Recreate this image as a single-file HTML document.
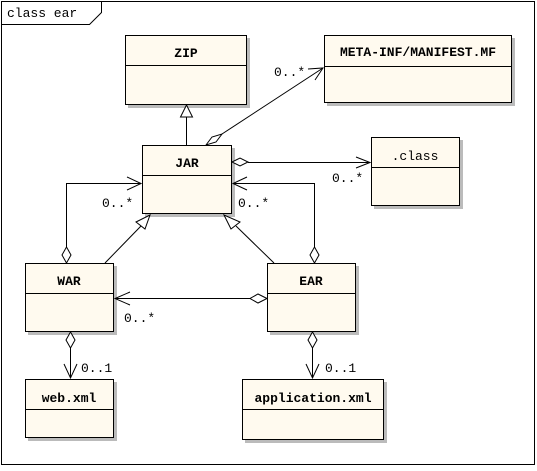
<!DOCTYPE html>
<html><head><style>
body{margin:0;background:#fff;}
svg text{font-family:"Liberation Mono","Noto Sans CJK SC",monospace;font-size:13px;}
</style></head><body>
<svg width="537" height="466" viewBox="0 0 537 466" xmlns="http://www.w3.org/2000/svg">
<rect x="0" y="0" width="537" height="466" fill="#fff"/>
<rect x="1.5" y="1.5" width="533" height="463" fill="none" stroke="#000"/>
<path d="M1.5 24.5 H89.5 L101.5 12.5 V1.5" fill="none" stroke="#000"/>
<text x="7" y="17" font-size="13">class ear</text>
<g stroke="#000" fill="#fffaef">
<!-- shadows -->
<g fill="#bbb" stroke="none">
<rect x="128" y="38" width="122" height="70"/>
<rect x="327" y="38" width="188" height="68"/>
<rect x="145" y="148" width="90" height="69"/>
<rect x="374" y="140" width="89" height="69"/>
<rect x="28" y="266" width="89" height="69"/>
<rect x="270" y="266" width="89" height="69"/>
<rect x="28" y="382" width="89" height="59"/>
<rect x="245" y="382" width="142" height="61"/>
</g>
<rect x="125.5" y="35.5" width="121" height="69"/><line x1="125.5" y1="65.5" x2="246.5" y2="65.5"/>
<rect x="324.5" y="35.5" width="187" height="67"/><line x1="324.5" y1="66.5" x2="511.5" y2="66.5"/>
<rect x="142.5" y="145.5" width="89" height="68"/><line x1="142.5" y1="175.5" x2="231.5" y2="175.5"/>
<rect x="371.5" y="137.5" width="88" height="68"/><line x1="371.5" y1="167.5" x2="459.5" y2="167.5"/>
<rect x="25.5" y="263.5" width="88" height="68"/><line x1="25.5" y1="293.5" x2="113.5" y2="293.5"/>
<rect x="267.5" y="263.5" width="88" height="68"/><line x1="267.5" y1="293.5" x2="355.5" y2="293.5"/>
<rect x="25.5" y="379.5" width="88" height="58"/><line x1="25.5" y1="409.5" x2="113.5" y2="409.5"/>
<rect x="242.5" y="379.5" width="141" height="60"/><line x1="242.5" y1="409.5" x2="383.5" y2="409.5"/>
</g>
<g font-weight="bold" text-anchor="middle">
<text x="186" y="57">ZIP</text>
<text x="418" y="56">META-INF/MANIFEST.MF</text>
<text x="187" y="167">JAR</text>
<text x="415" y="160" font-weight="normal">.class</text>
<text x="69" y="285">WAR</text>
<text x="311" y="285">EAR</text>
<text x="69" y="402">web.xml</text>
<text x="313" y="402">application.xml</text>
</g>
<g stroke="#000" fill="none">
<!-- ZIP generalization -->
<line x1="186.5" y1="145" x2="186.5" y2="117"/>
<path d="M180.5 117 L186.5 105 L192.5 117 Z" fill="#fff"/>
<!-- JAR -> META -->
<path d="M206 145 L212 137 L222 134 L216 142 Z" fill="#fff"/>
<line x1="222" y1="134" x2="323" y2="68"/>
<path d="M308 69 L323 68 L315 80"/>
<!-- JAR -> .class -->
<path d="M232 162 L240 158 L248 162 L240 166 Z" fill="#fff"/>
<line x1="248" y1="162.5" x2="370" y2="162.5"/>
<path d="M356 157 L370 162.5 L356 168"/>
<!-- WAR -> JAR agg -->
<path d="M66.5 263 L62 255 L66.5 247 L71 255 Z" fill="#fff"/>
<polyline points="66.5,247 66.5,183.5 141,183.5"/>
<path d="M127 177 L141 183.5 L127 190"/>
<!-- EAR -> JAR agg -->
<path d="M314.5 263 L310 255 L314.5 247 L319 255 Z" fill="#fff"/>
<polyline points="314.5,247 314.5,183.5 233,183.5"/>
<path d="M247 177 L233 183.5 L247 190"/>
<!-- WAR gen -->
<line x1="105" y1="263" x2="141" y2="226"/>
<path d="M136 222 L150 215 L145 229 Z" fill="#fff"/>
<!-- EAR gen -->
<line x1="274" y1="263" x2="236" y2="226"/>
<path d="M231 229 L224 215 L240 222 Z" fill="#fff"/>
<!-- EAR -> WAR -->
<path d="M267 298.5 L258 294 L250 298.5 L258 303 Z" fill="#fff"/>
<line x1="250" y1="298.5" x2="115" y2="298.5"/>
<path d="M130 292 L115 298.5 L130 305"/>
<!-- WAR -> web.xml -->
<path d="M70.5 332 L66 340 L70.5 348 L75 340 Z" fill="#fff"/>
<line x1="70.5" y1="348" x2="70.5" y2="378"/>
<path d="M64 364 L70.5 378 L77 364"/>
<!-- EAR -> app -->
<path d="M312.5 332 L308 340 L312.5 348 L317 340 Z" fill="#fff"/>
<line x1="312.5" y1="348" x2="312.5" y2="378"/>
<path d="M306 364 L312.5 378 L319 364"/>
</g>
<g font-size="12">
<text x="274" y="76">0..*</text>
<text x="332" y="182">0..*</text>
<text x="102" y="207">0..*</text>
<text x="238" y="207">0..*</text>
<text x="124" y="322">0..*</text>
<text x="81" y="372">0..1</text>
<text x="325" y="372">0..1</text>
</g>
</svg>
</body></html>
